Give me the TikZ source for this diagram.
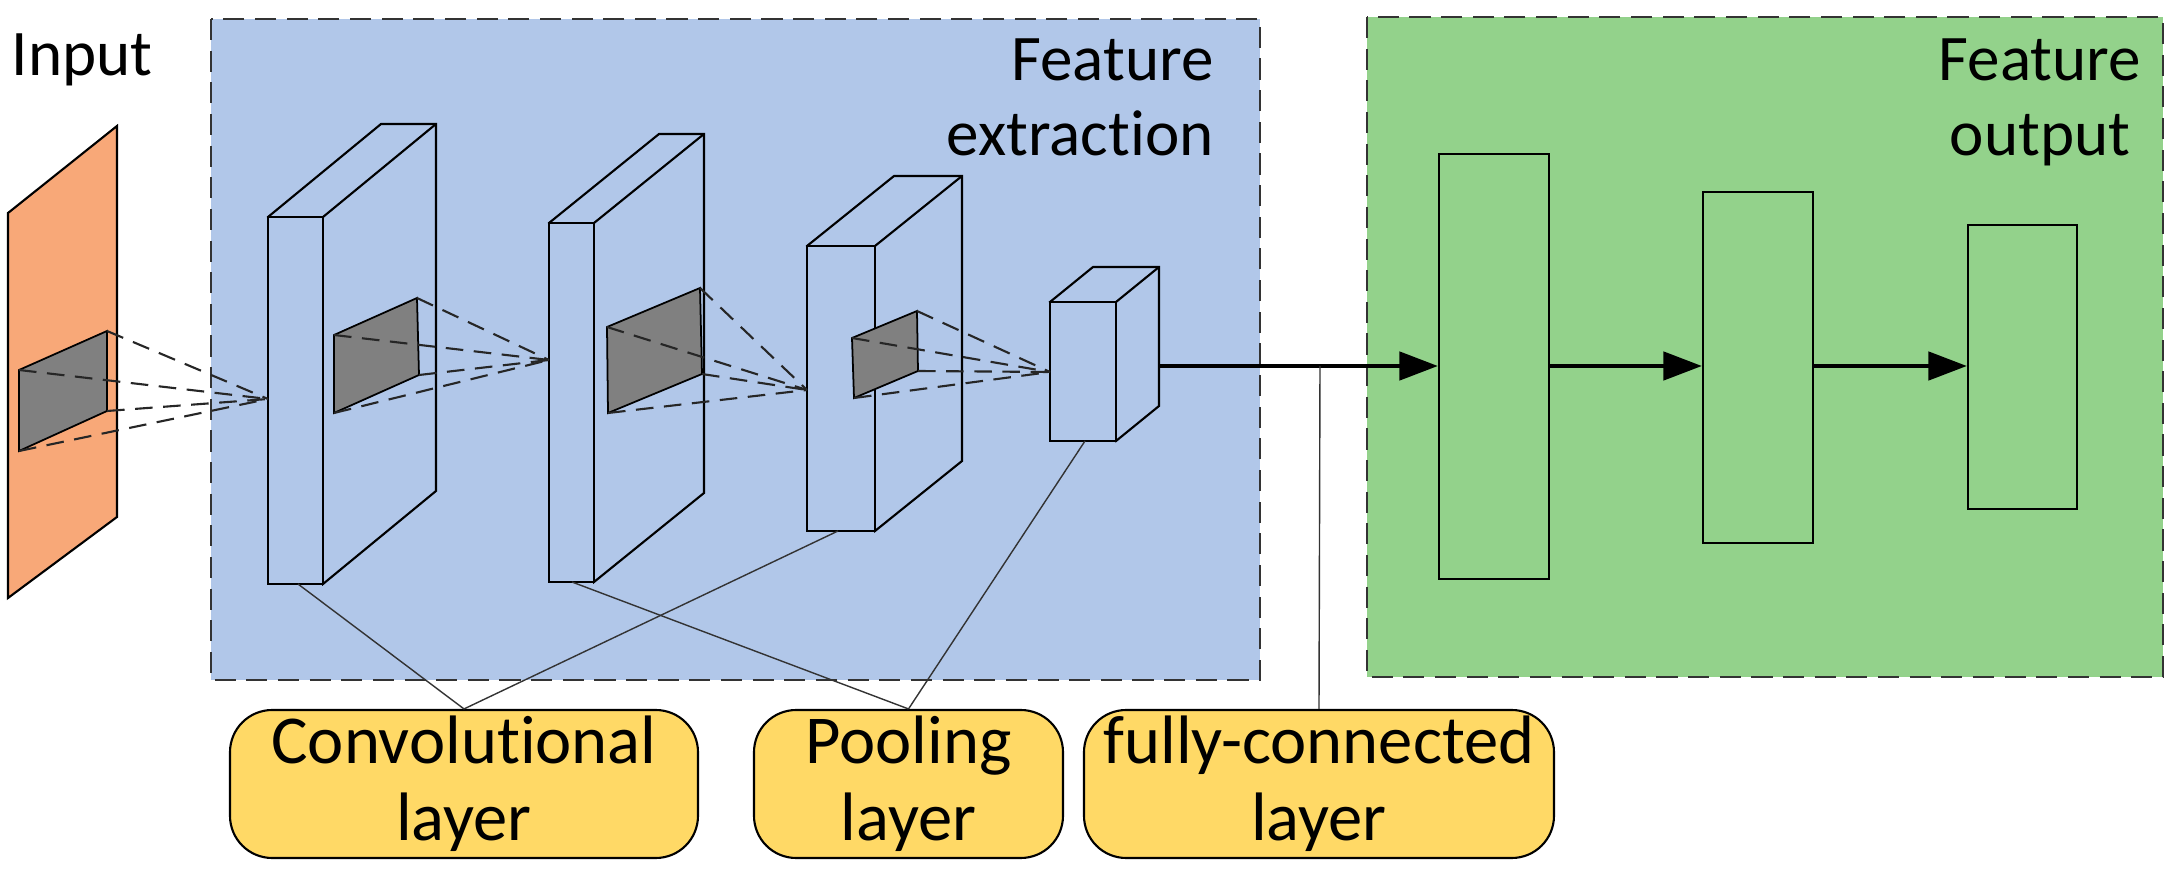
\documentclass[tikz,border=0pt]{standalone}
\usepackage{fontspec}
\setmainfont{Carlito}[Ligatures={NoCommon,NoDiscretionary,NoRare}]
\usetikzlibrary{arrows.meta}
\definecolor{bluebg}{RGB}{177,199,233}
\definecolor{greenbg}{RGB}{147,210,139}
\definecolor{orangep}{RGB}{248,168,120}
\definecolor{yel}{RGB}{255,217,102}
\definecolor{patch}{RGB}{128,128,128}
\newcommand\myblk[7]{% name, x1,y1,x2,y2,dx,dy
  \draw[blk] (#2,#3) -- ++(#6,#7) -- ++(#4-#2,0) -- ++(0,#5-#3) -- ++(-#6,-#7) -- cycle;
  \draw[blk] (#2,#3) rectangle (#4,#5);
  \draw[blk] (#4,#3) -- ++(#6,#7);
  \coordinate (#1-bl) at (#2,#5);}
\begin{document}
\begin{tikzpicture}[x=0.01cm,y=-0.01cm,
  blk/.style={draw=black,fill=bluebg,line width=0.6pt,line join=miter},
  dsh/.style={dashed,dash pattern=on 5pt off 3pt,line width=0.6pt,draw=black!85},
  pat/.style={fill=patch,draw=black,line width=0.5pt},
  lab/.style={draw=black,fill=yel,rounded corners=12pt,line width=0.6pt,align=center,font=\fontsize{19.5}{22}\selectfont,inner sep=0pt},
  ttl/.style={font=\fontsize{18.5}{21.5}\selectfont,align=center},
  fc/.style={draw=black,line width=0.6pt,fill=greenbg},
  conn/.style={line width=0.4pt,draw=black!80},
  arr/.style={line width=1.3pt,-{Triangle[length=11pt,width=8pt]}}]
\useasboundingbox (0,0) rectangle (2177,876);
% backgrounds
\draw[fill=bluebg,dashed,dash pattern=on 6pt off 3pt,line width=0.7pt,draw=black!80] (211,19) rectangle (1260,680);
\draw[fill=greenbg,dashed,dash pattern=on 6pt off 3pt,line width=0.7pt,draw=black!80] (1367,17) rectangle (2163,677);
\node[ttl] (tin) at (82,60) {Input};
\node[ttl,anchor=north east,align=right] (tfe) at (1226,26) {Feature\\extraction};
\node[ttl,anchor=north] (tfo) at (2040,26) {Feature\\output};
% input plane
\draw[fill=orangep,draw=black,line width=0.6pt] (8,213) -- (117,126) -- (117,517) -- (8,598) -- cycle;
\draw[pat] (19,370) -- (107,331) -- (107,411) -- (19,451) -- cycle;
% blocks
\myblk{c1}{268}{217}{323}{584}{113}{-93}
\myblk{c2}{549}{223}{594}{582}{110}{-89}
\myblk{p1}{807}{246}{875}{531}{87}{-70}
\myblk{p2}{1050}{302}{1116}{441}{43}{-35}
\coordinate (v1) at (268,399);
\coordinate (v2) at (549,360);
\coordinate (v3) at (807,390);
\coordinate (v4) at (1050,372);
% patches
\draw[pat] (334,335) -- (417,298) -- (419,375) -- (334,413) -- cycle;
\draw[pat] (607,327) -- (700,288) -- (702,374) -- (608,413) -- cycle;
\draw[pat] (852,338) -- (917,311) -- (918,371) -- (854,398) -- cycle;
% dashed
\foreach \p in {(107,331),(19,370),(107,411),(19,451)} \draw[dsh] \p -- (v1);
\foreach \p in {(417,298),(334,335),(419,375),(334,413)} \draw[dsh] \p -- (v2);
\foreach \p in {(700,288),(607,327),(702,374),(608,413)} \draw[dsh] \p -- (v3);
\foreach \p in {(917,311),(852,338),(918,371),(854,398)} \draw[dsh] \p -- (v4);
% fc layers
\node[fc,minimum width=110*0.01cm,minimum height=425*0.01cm,inner sep=0pt] (f1) at (1494,366.5) {};
\node[fc,minimum width=110*0.01cm,minimum height=351*0.01cm,inner sep=0pt] (f2) at (1758,367.5) {};
\node[fc,minimum width=109*0.01cm,minimum height=284*0.01cm,inner sep=0pt] (f3) at (2022.5,367) {};
\coordinate (p2r) at (1159,366);
\coordinate (jn) at (1320,366);
\draw[arr] (p2r) -- (f1.west|-p2r);
\draw[arr] (f1.east|-p2r) -- (f2.west|-p2r);
\draw[arr] (f2.east|-p2r) -- (f3.west|-p2r);
% labels
\node[lab,minimum width=468*0.01cm,minimum height=148*0.01cm] (lc) at (464,784) {Convolutional\\layer};
\node[lab,minimum width=309*0.01cm,minimum height=148*0.01cm] (lp) at (908.5,784) {Pooling\\layer};
\node[lab,minimum width=470*0.01cm,minimum height=148*0.01cm] (lf) at (1319,784) {fully-connected\\layer};
\coordinate (c1b) at (298,584);
\coordinate (p1b) at (838,531);
\coordinate (c2b) at (572,582);
\coordinate (p2b) at (1085,441);
\draw[conn] (c1b) -- (lc.north);
\draw[conn] (p1b) -- (lc.north);
\draw[conn] (c2b) -- (lp.north);
\draw[conn] (p2b) -- (lp.north);
\draw[conn] (jn) -- (lf.north);
\end{tikzpicture}
\end{document}
